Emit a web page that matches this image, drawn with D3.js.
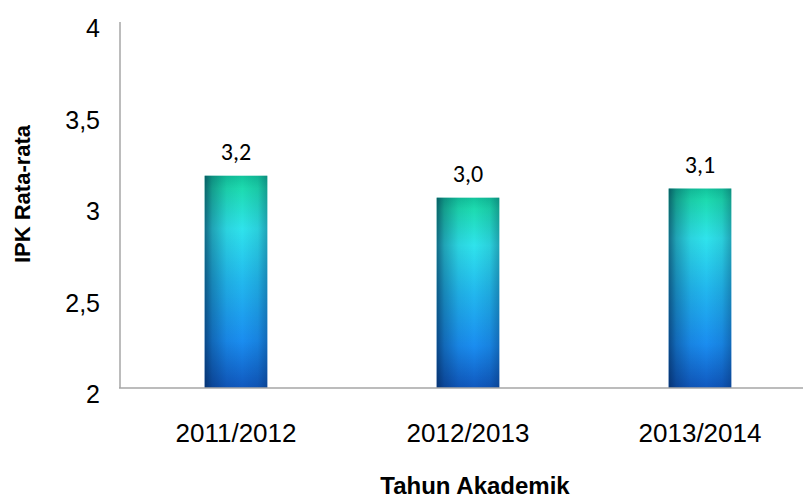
<!DOCTYPE html>
<html>
<head>
<meta charset="utf-8">
<script src="https://cdn.jsdelivr.net/npm/d3@7"></script>
<style>
  body { margin: 0; background: #fff; }
  svg { display: block; }
</style>
</head>
<body>
<div id="chart"></div>
<script>
// DATA
////////////////////////////
var years = ['2011/2012', '2012/2013', '2013/2014'];
var ipk = [3.16, 3.04, 3.09];
var yTicks = [2, 2.5, 3, 3.5, 4];

// SETUP
////////////////////////////
var width = 803,
    height = 500;

var svg = d3.select('#chart').append('svg')
    .attr('width', width)
    .attr('height', height);

var x = d3.scaleBand()
    .domain(years)
    .range([120, 816])
    .paddingInner(0.73)
    .paddingOuter(0.365);

var y = d3.scaleLinear()
    .domain([2, 4])
    .range([388, 22]);

var comma = function(v) { return d3.format('.1f')(v).replace('.', ','); };
var tickFmt = function(v) { return String(v).replace('.', ','); };

// gradients for the cylinder look
var defs = svg.append('defs');
var vg = defs.append('linearGradient')
    .attr('id', 'barV')
    .attr('x1', 0).attr('y1', 0).attr('x2', 0).attr('y2', 1);
[['0%', '#12c49c'], ['6%', '#1ddbb0'], ['25%', '#2fe3ec'], ['50%', '#22b8ee'],
 ['78%', '#1a8df0'], ['100%', '#1058be']].forEach(function(s) {
  vg.append('stop').attr('offset', s[0]).attr('stop-color', s[1]);
});

var hg = defs.append('linearGradient')
    .attr('id', 'barH')
    .attr('x1', 0).attr('y1', 0).attr('x2', 1).attr('y2', 0);
[['0%', 0.6], ['12%', 0.32], ['35%', 0.08], ['60%', 0], ['85%', 0.1], ['100%', 0.32]].forEach(function(s) {
  hg.append('stop').attr('offset', s[0]).attr('stop-color', '#001a40').attr('stop-opacity', s[1]);
});

// BARS
////////////////////////////
var bars = svg.append('g').selectAll('g')
    .data(years)
    .enter().append('g');

bars.append('rect')
    .attr('x', function(d) { return x(d); })
    .attr('y', function(d, i) { return y(ipk[i]); })
    .attr('width', x.bandwidth())
    .attr('height', function(d, i) { return y(2) - y(ipk[i]); })
    .style('fill', 'url(#barV)');

bars.append('rect')
    .attr('x', function(d) { return x(d); })
    .attr('y', function(d, i) { return y(ipk[i]); })
    .attr('width', x.bandwidth())
    .attr('height', function(d, i) { return y(2) - y(ipk[i]); })
    .style('fill', 'url(#barH)');

// value labels
bars.append('text')
    .attr('x', function(d) { return x(d) + x.bandwidth() / 2; })
    .attr('y', function(d, i) { return y(ipk[i]) - 16; })
    .attr('text-anchor', 'middle')
    .style('font-family', 'Carlito, "Open Sans", sans-serif')
    .style('font-size', '24px')
    .style('fill', '#000')
    .text(function(d, i) { return comma(ipk[i]); });

// AXES
////////////////////////////
svg.append('line')
    .attr('x1', 120).attr('x2', 120)
    .attr('y1', y(4)).attr('y2', y(2))
    .style('stroke', '#a6a6a6').style('stroke-width', 1.5);
svg.append('line')
    .attr('x1', 119).attr('x2', width)
    .attr('y1', y(2)).attr('y2', y(2))
    .style('stroke', '#a6a6a6').style('stroke-width', 1.5);

svg.append('g').selectAll('text')
    .data(yTicks)
    .enter().append('text')
    .attr('x', 100)
    .attr('y', function(d) { return y(d) + 15; })
    .attr('text-anchor', 'end')
    .style('font-family', '"Liberation Sans", Arial, sans-serif')
    .style('font-size', '25px')
    .text(tickFmt);

svg.append('g').selectAll('text')
    .data(years)
    .enter().append('text')
    .attr('x', function(d) { return x(d) + x.bandwidth() / 2; })
    .attr('y', 442)
    .attr('text-anchor', 'middle')
    .style('font-family', '"Liberation Sans", Arial, sans-serif')
    .style('font-size', '26px')
    .text(function(d) { return d; });

// axis titles
svg.append('text')
    .attr('x', 475)
    .attr('y', 494)
    .attr('text-anchor', 'middle')
    .style('font-family', '"Liberation Sans", Arial, sans-serif')
    .style('font-size', '24px')
    .style('font-weight', 'bold')
    .text('Tahun Akademik');

svg.append('text')
    .attr('transform', 'translate(30,194) rotate(-90)')
    .attr('text-anchor', 'middle')
    .style('font-family', '"Liberation Sans", Arial, sans-serif')
    .style('font-size', '22px')
    .style('font-weight', 'bold')
    .text('IPK Rata-rata');
</script>
</body>
</html>
